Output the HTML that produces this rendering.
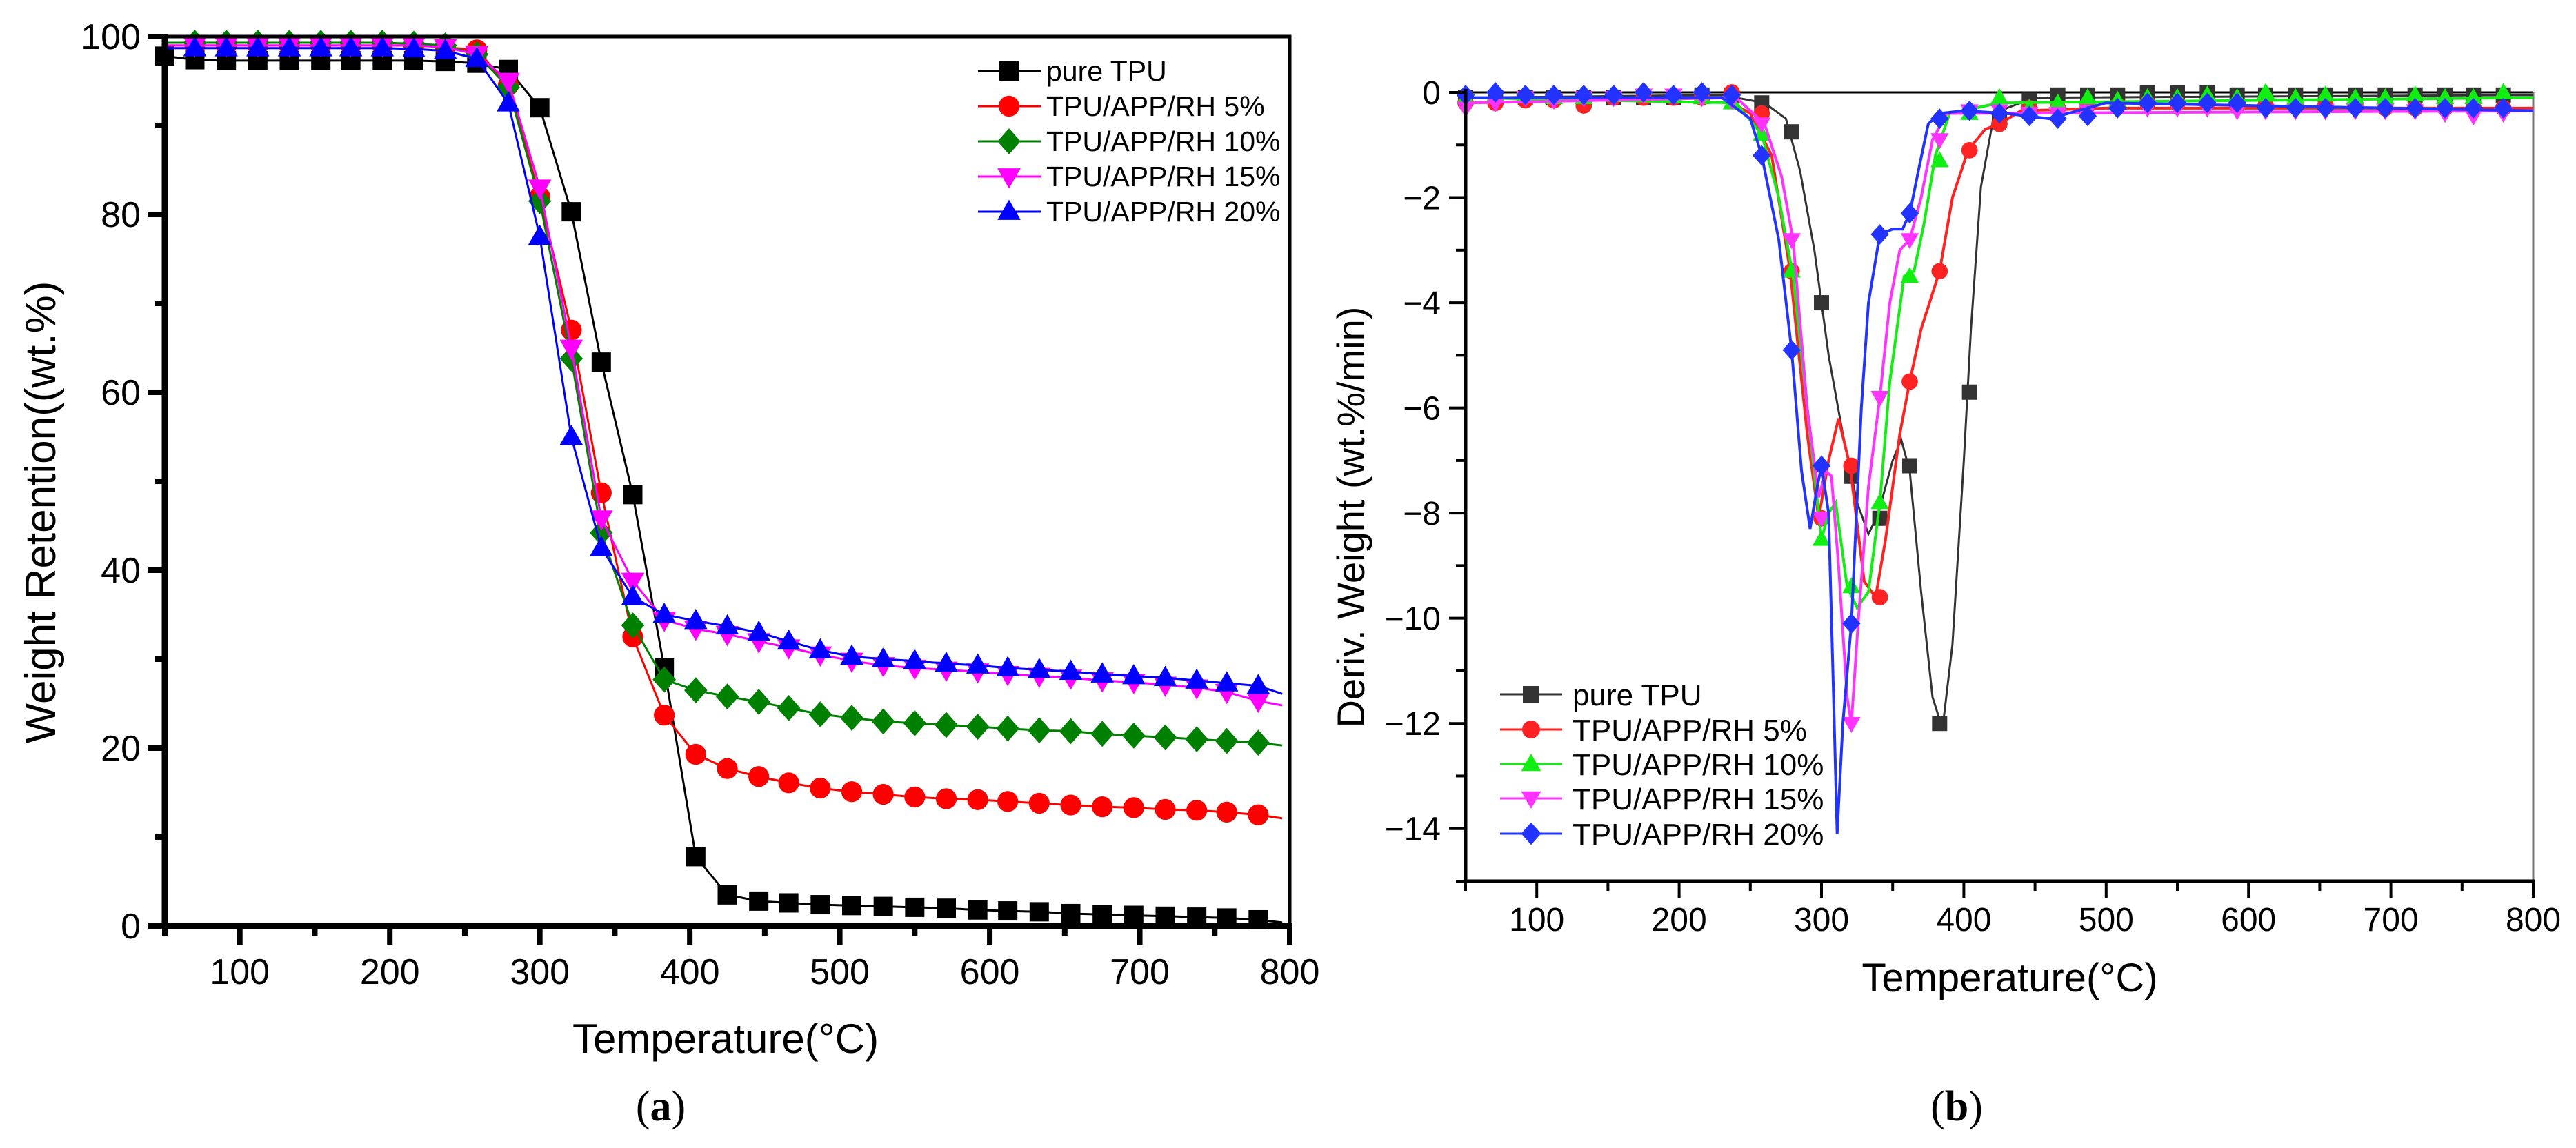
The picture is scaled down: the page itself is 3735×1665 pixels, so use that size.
<!DOCTYPE html>
<html><head><meta charset="utf-8"><style>
html,body{margin:0;padding:0;background:#fff;}
svg{display:block;font-family:"Liberation Sans",Arial,sans-serif;}
</style></head><body>
<svg id="s" width="3735" height="1665" viewBox="0 0 3735 1665" xmlns="http://www.w3.org/2000/svg">
<g id="ga"></g>
<g id="gb"></g>
<text x="958" y="1625" font-family="Liberation Serif, serif" font-size="62" text-anchor="middle">(<tspan font-weight="bold">a</tspan>)</text>
<text x="2837" y="1625" font-family="Liberation Serif, serif" font-size="62" text-anchor="middle">(<tspan font-weight="bold">b</tspan>)</text>
</svg>
<script>
// ---------- Chart A data ----------
const seriesNames = ["pure TPU","TPU/APP/RH 5%","TPU/APP/RH 10%","TPU/APP/RH 15%","TPU/APP/RH 20%"];
const aTemps = [70,91,112,133,154,174,195,216,237,258,279,300,321,341,362,383,404,425,446,466,487,508,529,550,571,592,612,633,654,675,696,717,738,758,779];
const aPure = [97.4,97.3,97.3,97.3,97.3,97.3,97.3,97.3,97.2,97,96.3,92,80.3,63.4,48.5,29,7.8,3.5,2.8,2.6,2.4,2.3,2.2,2.1,2.0,1.8,1.7,1.6,1.4,1.3,1.2,1.1,1.0,0.9,0.7];
const a5 = [99,99,99,99,99,99,99,99,98.8,98.5,94.5,82,67,48.7,32.5,23.7,19.3,17.7,16.8,16.1,15.5,15.1,14.8,14.5,14.3,14.2,14.0,13.8,13.6,13.4,13.3,13.1,13.0,12.8,12.5];
const a10 = [99.3,99.3,99.3,99.3,99.3,99.3,99.3,99.2,99,98,94.3,81.5,63.8,44.2,33.8,27.7,26.5,25.8,25.2,24.5,23.8,23.4,23.0,22.8,22.6,22.4,22.2,22.0,21.9,21.6,21.4,21.2,21.0,20.8,20.6];
const a15 = [99,99,99,99,99,99,99,99,98.8,98,95,83,65,45.8,38.8,34.4,33.4,32.8,32,31.3,30.5,29.8,29.3,29.0,28.8,28.6,28.3,28.1,27.9,27.6,27.4,27.1,26.8,26.3,25.3];
const a20 = [98.7,98.7,98.7,98.7,98.7,98.7,98.7,98.6,98.4,97.5,92.5,77.5,55,42.5,37,35,34.3,33.7,33,32,31,30.3,30,29.8,29.5,29.3,29,28.8,28.6,28.3,28.1,27.9,27.6,27.3,27.0];
const aYTicks = [0,20,40,60,80,100];
const xTicks = [100,200,300,400,500,600,700,800];

// ---------- Chart B data ----------
const bTemps = [50,71,92,112,133,154,175,196,216,237,258,279,300,321,341,362,383,404,425,446,466,487,508,529,550,571,592,612,633,654,675,696,717,738,758,779];
const bPureM = [-0.1,-0.1,-0.1,-0.1,-0.1,-0.1,-0.1,-0.1,-0.05,-0.05,-0.2,-0.75,-4,-7.3,-8.1,-7.1,-12,-5.7,-0.5,-0.15,-0.05,-0.05,-0.05,0,0,0,-0.05,-0.05,-0.05,-0.05,-0.05,-0.05,-0.05,-0.05,-0.05,-0.05];
const b5M = [-0.2,-0.2,-0.15,-0.15,-0.25,-0.1,-0.1,-0.1,-0.1,0,-0.4,-3.4,-8.1,-7.1,-9.6,-5.5,-3.4,-1.1,-0.6,-0.3,-0.3,-0.25,-0.25,-0.2,-0.2,-0.2,-0.25,-0.25,-0.25,-0.25,-0.25,-0.3,-0.3,-0.3,-0.3,-0.3];
const b10M = [-0.1,-0.05,-0.05,-0.1,-0.1,-0.05,-0.05,-0.05,-0.1,-0.2,-0.8,-3.4,-8.5,-9.4,-7.8,-3.5,-1.3,-0.4,-0.1,-0.3,-0.2,-0.1,-0.15,-0.1,-0.1,-0.05,-0.1,0,-0.1,-0.05,-0.1,-0.1,-0.05,-0.1,-0.1,0];
const b15M = [-0.3,-0.2,-0.1,-0.15,-0.1,-0.1,-0.05,-0.05,-0.1,-0.15,-0.6,-2.8,-8.1,-12,-5.8,-2.8,-0.9,-0.35,-0.35,-0.4,-0.4,-0.35,-0.3,-0.3,-0.3,-0.3,-0.35,-0.35,-0.35,-0.35,-0.35,-0.35,-0.35,-0.4,-0.45,-0.4];
const b20M = [-0.05,0,-0.05,-0.05,-0.05,-0.05,0,-0.05,0,-0.05,-1.2,-4.9,-7.1,-10.1,-2.7,-2.3,-0.5,-0.35,-0.4,-0.45,-0.5,-0.45,-0.3,-0.2,-0.2,-0.2,-0.2,-0.3,-0.3,-0.3,-0.3,-0.3,-0.3,-0.3,-0.3,-0.3];
const bPureLT = [50,230,260,275,285,295,305,315,325,333,340,350,356,362,370,378,385,392,400,405,412,420,430,450,800];
const bPureLV = [-0.1,-0.05,-0.2,-0.5,-1.5,-3,-5,-6.5,-7.8,-8.4,-8,-7,-6.6,-7.2,-9.5,-11.5,-12.1,-10.5,-7,-4.5,-1.8,-0.6,-0.3,-0.1,-0.05];
const b5LT = [50,230,250,265,278,290,298,305,312,320,330,338,345,355,362,370,383,392,403,415,425,440,500,800];
const b5LV = [-0.2,-0.1,-0.4,-1.2,-3.4,-6.5,-8.1,-7,-6.2,-7.1,-9.3,-9.6,-8.5,-6.5,-5.5,-4.5,-3.4,-2,-1.1,-0.7,-0.6,-0.35,-0.3,-0.3];
const b10LT = [50,240,258,270,280,290,300,305,310,318,325,333,341,348,358,365,372,380,390,425,800];
const b10LV = [-0.1,-0.2,-0.8,-2,-3.5,-6,-8.5,-8,-7.8,-9.4,-9.8,-9.5,-7.8,-5.5,-3.5,-3.4,-2.5,-1.2,-0.4,-0.2,-0.1];
const b15LT = [50,240,260,272,280,290,298,303,307,312,318,321,326,333,341,348,355,362,370,378,388,800];
const b15LV = [-0.2,-0.1,-0.6,-1.6,-2.8,-6,-7.7,-7.2,-7.3,-9,-11.5,-12,-10,-7.5,-5.8,-4,-3,-2.8,-2,-0.9,-0.4,-0.35];
const b20LT = [50,230,250,258,270,279,286,292,297,300,305,308,311,315,321,328,333,341,350,357,362,368,375,383,400,430,460,500,800];
const b20LV = [-0.1,-0.1,-0.5,-1.2,-2.8,-4.9,-7.2,-8.3,-7.5,-7.1,-8,-11,-14.1,-12,-10.1,-6,-4,-2.7,-2.6,-2.6,-2.3,-1.5,-0.6,-0.4,-0.35,-0.4,-0.5,-0.2,-0.35];
const bYTicks = [0,-2,-4,-6,-8,-10,-12,-14];

const NS="http://www.w3.org/2000/svg";
function mk(parent,tag,attrs){const e=document.createElementNS(NS,tag);for(const k in attrs)e.setAttribute(k,attrs[k]);parent.appendChild(e);return e;}

function marker(g,shape,cx,cy,r,color){
  let e;
  if(shape==='sq') e=mk(g,'rect',{x:cx-r,y:cy-r,width:2*r,height:2*r,fill:color});
  else if(shape==='ci') e=mk(g,'circle',{cx:cx,cy:cy,r:r*1.08,fill:color});
  else if(shape==='di') e=mk(g,'polygon',{points:`${cx},${cy-r*1.35} ${cx+r*1.2},${cy} ${cx},${cy+r*1.35} ${cx-r*1.2},${cy}`,fill:color});
  else if(shape==='up') e=mk(g,'polygon',{points:`${cx},${cy-r*1.25} ${cx+r*1.2},${cy+r*0.85} ${cx-r*1.2},${cy+r*0.85}`,fill:color});
  else e=mk(g,'polygon',{points:`${cx},${cy+r*1.25} ${cx+r*1.2},${cy-r*0.85} ${cx-r*1.2},${cy-r*0.85}`,fill:color});
  return e;
}
const shapesA=['sq','ci','di','dn','up'];
const shapesB=['sq','ci','up','dn','di'];

// ---------- Draw A ----------
(function(){
  const g=document.getElementById('ga');
  const L=239,R=1870,T=53,B=1343;
  const x=t=>L+(t-50)/750*(R-L);
  const y=v=>B-v/100*(B-T);
  const colors=['#000','#ff0000','#008000','#ff00ff','#0000ff'];
  const data=[aPure,a5,a10,a15,a20];
  const start=[97.8,99,99.3,99,98.7];
  const endV=[0.4,12.1,20.3,24.8,26.1];
  data.forEach((arr,i)=>{
    const sg=mk(g,'g',{});
    
    
    let pts=[[x(50),y(start[i])]];
    aTemps.forEach((t,j)=>pts.push([x(t),y(arr[j])]));
    pts.push([x(795),y(endV[i])]);
    const pl=mk(sg,'polyline',{points:pts.map(p=>p.join(',')).join(' '),fill:'none',stroke:colors[i],'stroke-width':3});
    
    
    const ms=(i===0?[50].concat(aTemps):aTemps);
    const mv=(i===0?[start[0]].concat(arr):arr);
    ms.forEach((t,j)=>{
      const m=marker(sg,shapesA[i],x(t),y(mv[j]),14,colors[i]);
      
      
    });
  });
  // axes box
  const ax=mk(g,'rect',{x:L,y:T,width:R-L,height:B-T,fill:'none',stroke:'#000','stroke-width':5});
  
  
  mk(g,'line',{x1:L,y1:T-3,x2:L,y2:B+3,stroke:'#000','stroke-width':9});
  mk(g,'line',{x1:L-3,y1:B,x2:R+3,y2:B,stroke:'#000','stroke-width':9});
  for(let v=0;v<=100;v+=10){
    const maj=v%20===0;
    mk(g,'line',{x1:L-(maj?25:14),y1:y(v),x2:L,y2:y(v),stroke:'#000','stroke-width':8});
  }
  aYTicks.forEach(v=>{
    const t=mk(g,'text',{x:L-35,y:y(v)+18,'font-size':52,'text-anchor':'end'});
    t.textContent=v;
    
    
  });
  for(let v=50;v<=800;v+=50){
    const maj=v%100===0;
    mk(g,'line',{x1:x(v),y1:B,x2:x(v),y2:B+(maj?27:15),stroke:'#000','stroke-width':8});
  }
  xTicks.forEach(v=>{
    const t=mk(g,'text',{x:x(v),y:1427,'font-size':52,'text-anchor':'middle'});
    t.textContent=v;
    
    
  });
  const xt=mk(g,'text',{x:1052,y:1527,'font-size':60,'text-anchor':'middle'});
  xt.textContent='Temperature(°C)';
  
  
  const yt=mk(g,'text',{x:0,y:0,'font-size':62,'text-anchor':'middle',transform:'translate(80,743) rotate(-90)'});
  yt.textContent='Weight  Retention((wt.%)';
  
  
  // legend
  const lg=mk(g,'g',{});
  
  
  const ly=[103,154,205,256,307];
  seriesNames.forEach((n,i)=>{
    const eg=mk(lg,'g',{});
    
    
    mk(eg,'line',{x1:1418,y1:ly[i],x2:1509,y2:ly[i],stroke:colors[i],'stroke-width':3});
    marker(eg,shapesA[i],1463,ly[i],14,colors[i]);
    const t=mk(eg,'text',{x:1517,y:ly[i]+14,'font-size':41});
    t.textContent=n;
  });
})();

// ---------- Draw B ----------
(function(){
  const g=document.getElementById('gb');
  const L=2125,R=3673,T=134,B=1278;
  const x=t=>L+(t-50)/750*(R-L);
  const y=v=>T+(-v)/15*(B-T);
  const colors=['#333333','#ff2222','#11ee11','#ff33ff','#2233ff'];
  const lt=[bPureLT,b5LT,b10LT,b15LT,b20LT], lv=[bPureLV,b5LV,b10LV,b15LV,b20LV];
  const mv=[bPureM,b5M,b10M,b15M,b20M];
  // zero line / top frame
  mk(g,'line',{x1:L,y1:T,x2:R,y2:T,stroke:'#000','stroke-width':3});
  mk(g,'line',{x1:R,y1:T,x2:R,y2:B,stroke:'#777','stroke-width':3});
  for(let i=0;i<5;i++){
    const sg=mk(g,'g',{});
    
    
    const pts=lt[i].map((t,j)=>x(t)+','+y(lv[i][j])).join(' ');
    const pl=mk(sg,'polyline',{points:pts,fill:'none',stroke:colors[i],'stroke-width':i===0?3:4});
    
    
    bTemps.forEach((t,j)=>{
      const m=marker(sg,shapesB[i],x(t),y(mv[i][j]),11,colors[i]);
      
      
    });
  }
  mk(g,'line',{x1:L,y1:T-5,x2:L,y2:B+2,stroke:'#000','stroke-width':5});
  mk(g,'line',{x1:L,y1:B,x2:R+2,y2:B,stroke:'#000','stroke-width':5});
  for(let v=0;v>=-15;v--){
    const maj=v%2===0;
    mk(g,'line',{x1:L-(maj?24:14),y1:y(v),x2:L,y2:y(v),stroke:'#000','stroke-width':4});
  }
  bYTicks.forEach(v=>{
    const t=mk(g,'text',{x:L-36,y:y(v)+17,'font-size':48,'text-anchor':'end'});
    t.textContent=v===0?'0':'\u2212'+(-v);
    
    
  });
  for(let v=50;v<=800;v+=50){
    const maj=v%100===0;
    mk(g,'line',{x1:x(v),y1:B,x2:x(v),y2:B+(maj?24:14),stroke:'#000','stroke-width':4});
  }
  xTicks.forEach(v=>{
    const t=mk(g,'text',{x:x(v),y:1350,'font-size':48,'text-anchor':'middle'});
    t.textContent=v;
    
    
  });
  const xt=mk(g,'text',{x:2914,y:1438,'font-size':58,'text-anchor':'middle'});
  xt.textContent='Temperature(°C)';
  
  
  const yt=mk(g,'text',{x:0,y:0,'font-size':56,'text-anchor':'middle',transform:'translate(1978,750) rotate(-90)'});
  yt.textContent='Deriv. Weight (wt.%/min)';
  
  
  const lg=mk(g,'g',{});
  
  
  const ly=[1007,1058,1108,1158,1209];
  seriesNames.forEach((n,i)=>{
    const eg=mk(lg,'g',{});
    
    
    mk(eg,'line',{x1:2175,y1:ly[i],x2:2265,y2:ly[i],stroke:colors[i],'stroke-width':3});
    marker(eg,shapesB[i],2220,ly[i],12,colors[i]);
    const t=mk(eg,'text',{x:2280,y:ly[i]+16,'font-size':44});
    t.textContent=n;
  });
})();
</script>
</body></html>
